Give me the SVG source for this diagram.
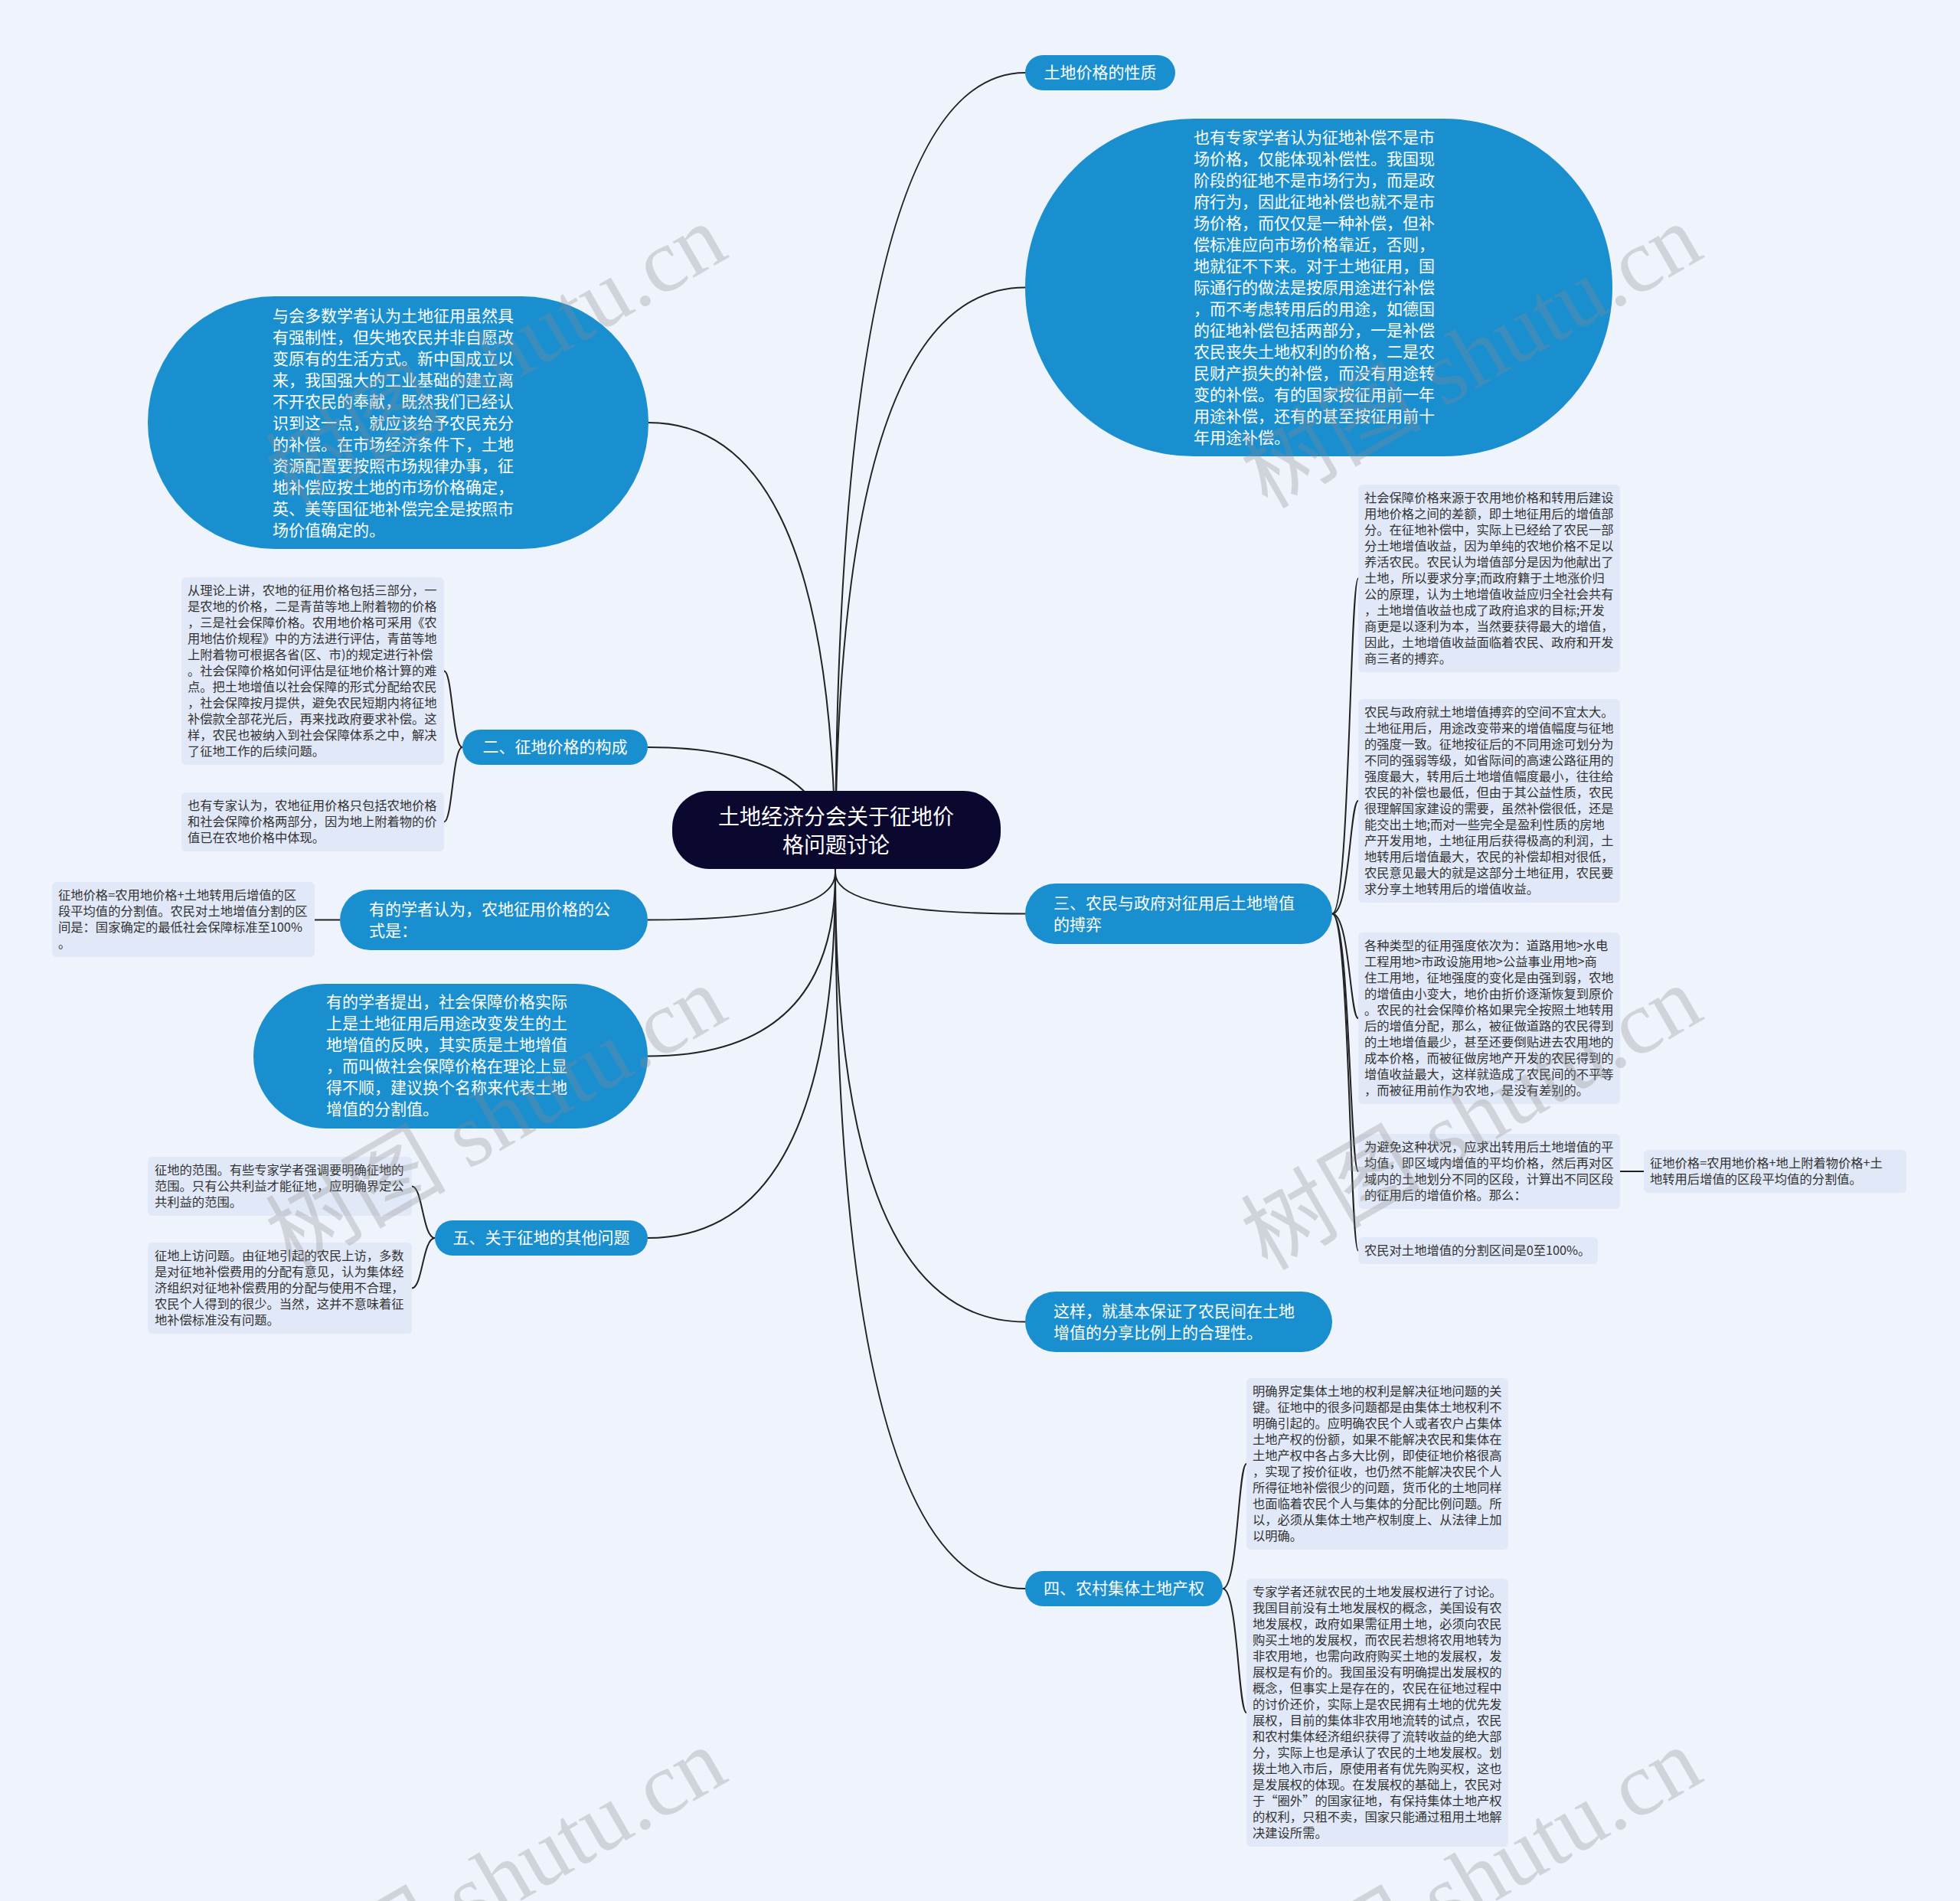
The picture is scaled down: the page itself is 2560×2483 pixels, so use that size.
<svg xmlns="http://www.w3.org/2000/svg" width="2560" height="2483" viewBox="0 0 2560 2483">
<style>
.blue{fill:#1a8fd0}
.leaf{fill:#e1e8f7}
.root{fill:#0b0830}
.tw{fill:#ffffff;font-family:"Noto Sans CJK SC","Liberation Sans",sans-serif;font-size:21px}
.tr{fill:#ffffff;font-family:"Noto Sans CJK SC","Liberation Sans",sans-serif;font-size:28px}
.tl{fill:#333333;font-family:"Noto Sans CJK SC","Liberation Sans",sans-serif;font-size:16.3px}
.mid{text-anchor:middle}
.conn path{fill:none;stroke:#222222;stroke-width:2}
.wm{fill:#8a8a8a;fill-opacity:0.3;font-family:"Liberation Serif","Noto Sans CJK SC",serif;font-size:118px;text-anchor:middle}
</style>
<rect width="2560" height="2483" fill="#eef3fc"/>
<g id="connectors" class="conn">
<path d="M1091 1140 Q1091 95 1339 95"/>
<path d="M1091 1140 Q1091 375.5 1339 375.5"/>
<path d="M1091 1140 Q1091 1193.5 1339 1193.5"/>
<path d="M1091 1140 Q1091 1726.5 1339 1726.5"/>
<path d="M1091 1140 Q1091 2075 1339 2075"/>
<path d="M1091 1140 Q1091 552 847 552"/>
<path d="M1091 1140 Q1091 976 846 976"/>
<path d="M1091 1140 Q1091 1201.5 846 1201.5"/>
<path d="M1091 1140 Q1091 1379.5 846 1379.5"/>
<path d="M1091 1140 Q1091 1617 846 1617"/>
<path d="M1740 1193.5 C1763 1193.5 1763 755.5 1774 755.5"/>
<path d="M1740 1193.5 C1763 1193.5 1763 1046 1774 1046"/>
<path d="M1740 1193.5 C1763 1193.5 1763 1330 1774 1330"/>
<path d="M1740 1193.5 C1763 1193.5 1763 1530 1774 1530"/>
<path d="M1740 1193.5 C1763 1193.5 1763 1633.5 1774 1633.5"/>
<path d="M2116 1530 H2147"/>
<path d="M1597 2075 C1617 2075 1617 1912 1628 1912"/>
<path d="M1597 2075 C1617 2075 1617 2237 1628 2237"/>
<path d="M604 976 C591 976 591 876.5 580 876.5"/>
<path d="M604 976 C591 976 591 1073.5 580 1073.5"/>
<path d="M411 1201.5 H444"/>
<path d="M568 1617 C552 1617 552 1549.5 538 1549.5"/>
<path d="M568 1617 C552 1617 552 1682.5 538 1682.5"/>
</g>
<g id="root">
<rect class="root" x="878" y="1033" width="429" height="102" rx="48"/>
<text class="tr mid"><tspan x="1092" y="1077">土地经济分会关于征地价</tspan><tspan x="1092" y="1114">格问题讨论</tspan></text>
</g>
<g id="n-xingzhi">
<rect class="blue" x="1339" y="72" width="196" height="46" rx="23"/>
<text class="tw mid" x="1437" y="102">土地价格的性质</text>
</g>
<g id="n-zhuanjia-ellipse">
<rect class="blue" x="1339" y="155" width="767" height="441" rx="220"/>
<text class="tw"><tspan x="1559" y="187">也有专家学者认为征地补偿不是市</tspan><tspan x="1559" y="215">场价格，仅能体现补偿性。我国现</tspan><tspan x="1559" y="243">阶段的征地不是市场行为，而是政</tspan><tspan x="1559" y="271">府行为，因此征地补偿也就不是市</tspan><tspan x="1559" y="299">场价格，而仅仅是一种补偿，但补</tspan><tspan x="1559" y="327">偿标准应向市场价格靠近，否则，</tspan><tspan x="1559" y="355">地就征不下来。对于土地征用，国</tspan><tspan x="1559" y="383">际通行的做法是按原用途进行补偿</tspan><tspan x="1559" y="411">，而不考虑转用后的用途，如德国</tspan><tspan x="1559" y="439">的征地补偿包括两部分，一是补偿</tspan><tspan x="1559" y="467">农民丧失土地权利的价格，二是农</tspan><tspan x="1559" y="495">民财产损失的补偿，而没有用途转</tspan><tspan x="1559" y="523">变的补偿。有的国家按征用前一年</tspan><tspan x="1559" y="551">用途补偿，还有的甚至按征用前十</tspan><tspan x="1559" y="579">年用途补偿。</tspan></text>
</g>
<g id="n-san">
<rect class="blue" x="1339" y="1154" width="401" height="79" rx="39.5"/>
<text class="tw"><tspan x="1376" y="1187">三、农民与政府对征用后土地增值</tspan><tspan x="1376" y="1215">的搏弈</tspan></text>
</g>
<g id="l-san-a">
<rect class="leaf" x="1774" y="633" width="342" height="245" rx="6"/>
<text class="tl"><tspan x="1782" y="656">社会保障价格来源于农用地价格和转用后建设</tspan><tspan x="1782" y="677">用地价格之间的差额，即土地征用后的增值部</tspan><tspan x="1782" y="698">分。在征地补偿中，实际上已经给了农民一部</tspan><tspan x="1782" y="719">分土地增值收益，因为单纯的农地价格不足以</tspan><tspan x="1782" y="740">养活农民。农民认为增值部分是因为他献出了</tspan><tspan x="1782" y="761">土地，所以要求分享;而政府籍于土地涨价归</tspan><tspan x="1782" y="782">公的原理，认为土地增值收益应归全社会共有</tspan><tspan x="1782" y="803">，土地增值收益也成了政府追求的目标;开发</tspan><tspan x="1782" y="824">商更是以逐利为本，当然要获得最大的增值，</tspan><tspan x="1782" y="845">因此，土地增值收益面临着农民、政府和开发</tspan><tspan x="1782" y="866">商三者的搏弈。</tspan></text>
</g>
<g id="l-san-b">
<rect class="leaf" x="1774" y="913" width="342" height="266" rx="6"/>
<text class="tl"><tspan x="1782" y="936">农民与政府就土地增值搏弈的空间不宜太大。</tspan><tspan x="1782" y="957">土地征用后，用途改变带来的增值幅度与征地</tspan><tspan x="1782" y="978">的强度一致。征地按征后的不同用途可划分为</tspan><tspan x="1782" y="999">不同的强弱等级，如省际间的高速公路征用的</tspan><tspan x="1782" y="1020">强度最大，转用后土地增值幅度最小，往往给</tspan><tspan x="1782" y="1041">农民的补偿也最低，但由于其公益性质，农民</tspan><tspan x="1782" y="1062">很理解国家建设的需要，虽然补偿很低，还是</tspan><tspan x="1782" y="1083">能交出土地;而对一些完全是盈利性质的房地</tspan><tspan x="1782" y="1104">产开发用地，土地征用后获得极高的利润，土</tspan><tspan x="1782" y="1125">地转用后增值最大，农民的补偿却相对很低，</tspan><tspan x="1782" y="1146">农民意见最大的就是这部分土地征用，农民要</tspan><tspan x="1782" y="1167">求分享土地转用后的增值收益。</tspan></text>
</g>
<g id="l-san-c">
<rect class="leaf" x="1774" y="1218" width="342" height="224" rx="6"/>
<text class="tl"><tspan x="1782" y="1241">各种类型的征用强度依次为：道路用地&gt;水电</tspan><tspan x="1782" y="1262">工程用地&gt;市政设施用地&gt;公益事业用地&gt;商</tspan><tspan x="1782" y="1283">住工用地，征地强度的变化是由强到弱，农地</tspan><tspan x="1782" y="1304">的增值由小变大，地价由折价逐渐恢复到原价</tspan><tspan x="1782" y="1325">。农民的社会保障价格如果完全按照土地转用</tspan><tspan x="1782" y="1346">后的增值分配，那么，被征做道路的农民得到</tspan><tspan x="1782" y="1367">的土地增值最少，甚至还要倒贴进去农用地的</tspan><tspan x="1782" y="1388">成本价格，而被征做房地产开发的农民得到的</tspan><tspan x="1782" y="1409">增值收益最大，这样就造成了农民间的不平等</tspan><tspan x="1782" y="1430">，而被征用前作为农地，是没有差别的。</tspan></text>
</g>
<g id="l-san-d">
<rect class="leaf" x="1774" y="1481" width="342" height="98" rx="6"/>
<text class="tl"><tspan x="1782" y="1504">为避免这种状况，应求出转用后土地增值的平</tspan><tspan x="1782" y="1525">均值，即区域内增值的平均价格，然后再对区</tspan><tspan x="1782" y="1546">域内的土地划分不同的区段，计算出不同区段</tspan><tspan x="1782" y="1567">的征用后的增值价格。那么：</tspan></text>
</g>
<g id="l-san-d1">
<rect class="leaf" x="2147" y="1502" width="343" height="56" rx="6"/>
<text class="tl"><tspan x="2155" y="1525">征地价格=农用地价格+地上附着物价格+土</tspan><tspan x="2155" y="1546">地转用后增值的区段平均值的分割值。</tspan></text>
</g>
<g id="l-san-e">
<rect class="leaf" x="1774" y="1616" width="313" height="35" rx="6"/>
<text class="tl" x="1782" y="1639">农民对土地增值的分割区间是0至100%。</text>
</g>
<g id="n-zheyang">
<rect class="blue" x="1339" y="1687" width="401" height="79" rx="39.5"/>
<text class="tw"><tspan x="1376" y="1720">这样，就基本保证了农民间在土地</tspan><tspan x="1376" y="1748">增值的分享比例上的合理性。</tspan></text>
</g>
<g id="n-si">
<rect class="blue" x="1339" y="2052" width="258" height="46" rx="23"/>
<text class="tw mid" x="1468" y="2082">四、农村集体土地产权</text>
</g>
<g id="l-si-a">
<rect class="leaf" x="1628" y="1800" width="342" height="224" rx="6"/>
<text class="tl"><tspan x="1636" y="1823">明确界定集体土地的权利是解决征地问题的关</tspan><tspan x="1636" y="1844">键。征地中的很多问题都是由集体土地权利不</tspan><tspan x="1636" y="1865">明确引起的。应明确农民个人或者农户占集体</tspan><tspan x="1636" y="1886">土地产权的份额，如果不能解决农民和集体在</tspan><tspan x="1636" y="1907">土地产权中各占多大比例，即使征地价格很高</tspan><tspan x="1636" y="1928">，实现了按价征收，也仍然不能解决农民个人</tspan><tspan x="1636" y="1949">所得征地补偿很少的问题，货币化的土地同样</tspan><tspan x="1636" y="1970">也面临着农民个人与集体的分配比例问题。所</tspan><tspan x="1636" y="1991">以，必须从集体土地产权制度上、从法律上加</tspan><tspan x="1636" y="2012">以明确。</tspan></text>
</g>
<g id="l-si-b">
<rect class="leaf" x="1628" y="2062" width="342" height="350" rx="6"/>
<text class="tl"><tspan x="1636" y="2085">专家学者还就农民的土地发展权进行了讨论。</tspan><tspan x="1636" y="2106">我国目前没有土地发展权的概念，美国设有农</tspan><tspan x="1636" y="2127">地发展权，政府如果需征用土地，必须向农民</tspan><tspan x="1636" y="2148">购买土地的发展权，而农民若想将农用地转为</tspan><tspan x="1636" y="2169">非农用地，也需向政府购买土地的发展权，发</tspan><tspan x="1636" y="2190">展权是有价的。我国虽没有明确提出发展权的</tspan><tspan x="1636" y="2211">概念，但事实上是存在的，农民在征地过程中</tspan><tspan x="1636" y="2232">的讨价还价，实际上是农民拥有土地的优先发</tspan><tspan x="1636" y="2253">展权，目前的集体非农用地流转的试点，农民</tspan><tspan x="1636" y="2274">和农村集体经济组织获得了流转收益的绝大部</tspan><tspan x="1636" y="2295">分，实际上也是承认了农民的土地发展权。划</tspan><tspan x="1636" y="2316">拨土地入市后，原使用者有优先购买权，这也</tspan><tspan x="1636" y="2337">是发展权的体现。在发展权的基础上，农民对</tspan><tspan x="1636" y="2358">于“圈外”的国家征地，有保持集体土地产权</tspan><tspan x="1636" y="2379">的权利，只租不卖，国家只能通过租用土地解</tspan><tspan x="1636" y="2400">决建设所需。</tspan></text>
</g>
<g id="n-yuhui-ellipse">
<rect class="blue" x="193" y="387" width="654" height="330" rx="165"/>
<text class="tw"><tspan x="356" y="420">与会多数学者认为土地征用虽然具</tspan><tspan x="356" y="448">有强制性，但失地农民并非自愿改</tspan><tspan x="356" y="476">变原有的生活方式。新中国成立以</tspan><tspan x="356" y="504">来，我国强大的工业基础的建立离</tspan><tspan x="356" y="532">不开农民的奉献，既然我们已经认</tspan><tspan x="356" y="560">识到这一点，就应该给予农民充分</tspan><tspan x="356" y="588">的补偿。在市场经济条件下，土地</tspan><tspan x="356" y="616">资源配置要按照市场规律办事，征</tspan><tspan x="356" y="644">地补偿应按土地的市场价格确定，</tspan><tspan x="356" y="672">英、美等国征地补偿完全是按照市</tspan><tspan x="356" y="700">场价值确定的。</tspan></text>
</g>
<g id="n-er">
<rect class="blue" x="604" y="953" width="242" height="46" rx="23"/>
<text class="tw mid" x="725" y="983">二、征地价格的构成</text>
</g>
<g id="l-er-a">
<rect class="leaf" x="237" y="754" width="343" height="245" rx="6"/>
<text class="tl"><tspan x="245" y="777">从理论上讲，农地的征用价格包括三部分，一</tspan><tspan x="245" y="798">是农地的价格，二是青苗等地上附着物的价格</tspan><tspan x="245" y="819">，三是社会保障价格。农用地价格可采用《农</tspan><tspan x="245" y="840">用地估价规程》中的方法进行评估，青苗等地</tspan><tspan x="245" y="861">上附着物可根据各省(区、市)的规定进行补偿</tspan><tspan x="245" y="882">。社会保障价格如何评估是征地价格计算的难</tspan><tspan x="245" y="903">点。把土地增值以社会保障的形式分配给农民</tspan><tspan x="245" y="924">，社会保障按月提供，避免农民短期内将征地</tspan><tspan x="245" y="945">补偿款全部花光后，再来找政府要求补偿。这</tspan><tspan x="245" y="966">样，农民也被纳入到社会保障体系之中，解决</tspan><tspan x="245" y="987">了征地工作的后续问题。</tspan></text>
</g>
<g id="l-er-b">
<rect class="leaf" x="237" y="1035" width="343" height="77" rx="6"/>
<text class="tl"><tspan x="245" y="1058">也有专家认为，农地征用价格只包括农地价格</tspan><tspan x="245" y="1079">和社会保障价格两部分，因为地上附着物的价</tspan><tspan x="245" y="1100">值已在农地价格中体现。</tspan></text>
</g>
<g id="n-gongshi">
<rect class="blue" x="444" y="1162" width="402" height="79" rx="39.5"/>
<text class="tw"><tspan x="482" y="1195">有的学者认为，农地征用价格的公</tspan><tspan x="482" y="1223">式是：</tspan></text>
</g>
<g id="l-gongshi">
<rect class="leaf" x="68" y="1152" width="343" height="98" rx="6"/>
<text class="tl"><tspan x="76" y="1175">征地价格=农用地价格+土地转用后增值的区</tspan><tspan x="76" y="1196">段平均值的分割值。农民对土地增值分割的区</tspan><tspan x="76" y="1217">间是：国家确定的最低社会保障标准至100%</tspan><tspan x="76" y="1238">。</tspan></text>
</g>
<g id="n-tichu-ellipse">
<rect class="blue" x="331" y="1285" width="515" height="189" rx="94.5"/>
<text class="tw"><tspan x="426" y="1316">有的学者提出，社会保障价格实际</tspan><tspan x="426" y="1344">上是土地征用后用途改变发生的土</tspan><tspan x="426" y="1372">地增值的反映，其实质是土地增值</tspan><tspan x="426" y="1400">，而叫做社会保障价格在理论上显</tspan><tspan x="426" y="1428">得不顺，建议换个名称来代表土地</tspan><tspan x="426" y="1456">增值的分割值。</tspan></text>
</g>
<g id="n-wu">
<rect class="blue" x="568" y="1594" width="278" height="46" rx="23"/>
<text class="tw mid" x="707" y="1624">五、关于征地的其他问题</text>
</g>
<g id="l-wu-a">
<rect class="leaf" x="193" y="1511" width="345" height="77" rx="6"/>
<text class="tl"><tspan x="202" y="1534">征地的范围。有些专家学者强调要明确征地的</tspan><tspan x="202" y="1555">范围。只有公共利益才能征地，应明确界定公</tspan><tspan x="202" y="1576">共利益的范围。</tspan></text>
</g>
<g id="l-wu-b">
<rect class="leaf" x="193" y="1623" width="345" height="119" rx="6"/>
<text class="tl"><tspan x="202" y="1646">征地上访问题。由征地引起的农民上访，多数</tspan><tspan x="202" y="1667">是对征地补偿费用的分配有意见，认为集体经</tspan><tspan x="202" y="1688">济组织对征地补偿费用的分配与使用不合理，</tspan><tspan x="202" y="1709">农民个人得到的很少。当然，这并不意味着征</tspan><tspan x="202" y="1730">地补偿标准没有问题。</tspan></text>
</g>
<g id="watermarks">
<text class="wm" transform="translate(668,500) rotate(-30)">树图 shutu.cn</text>
<text class="wm" transform="translate(1942,500) rotate(-30)">树图 shutu.cn</text>
<text class="wm" transform="translate(668,1495) rotate(-30)">树图 shutu.cn</text>
<text class="wm" transform="translate(1942,1495) rotate(-30)">树图 shutu.cn</text>
<text class="wm" transform="translate(668,2490) rotate(-30)">树图 shutu.cn</text>
<text class="wm" transform="translate(1942,2490) rotate(-30)">树图 shutu.cn</text>
</g>
</svg>
